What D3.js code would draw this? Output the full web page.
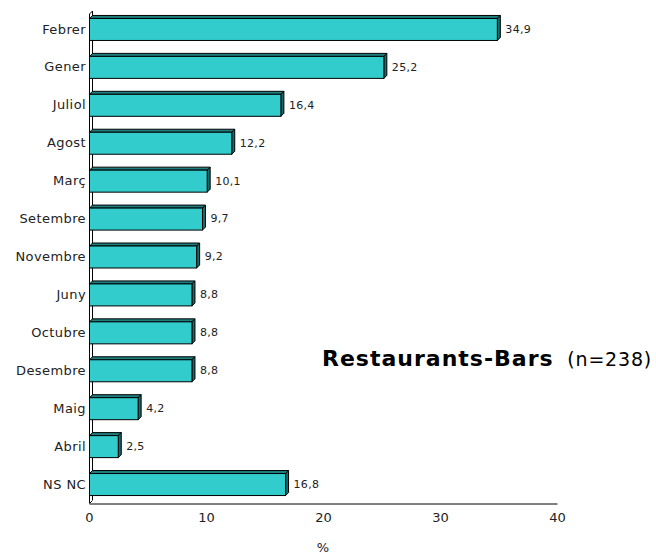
<!DOCTYPE html>
<html><head><meta charset="utf-8">
<script src="https://cdn.jsdelivr.net/npm/d3@7"></script>
<style>body{margin:0;background:#fff;} svg{display:block;}</style>
</head><body>
<script>
const categories = ["Febrer","Gener","Juliol","Agost","Març","Setembre","Novembre","Juny","Octubre","Desembre","Maig","Abril","NS NC"];
const values = [34.9,25.2,16.4,12.2,10.1,9.7,9.2,8.8,8.8,8.8,4.2,2.5,16.8];
const ticks = [0,10,20,30,40];
const labels = values.map(v => v.toFixed(1).replace(".", ","));

const W = 656, H = 555;
const svg = d3.select("body").append("svg").attr("width", W).attr("height", H);
const font = "'DejaVu Sans', Verdana, sans-serif";
const x = d3.scaleLinear().domain([0,40]).range([89,557]);
const y = d3.scaleBand().domain(categories).range([10,503]).paddingInner(0.42).paddingOuter(0.21);
const d = 3;

// wall and floor
const g = svg.append("g").attr("stroke","#000").attr("fill","none").attr("stroke-width",1);
g.append("path").attr("d",`M${x(0)+0.5},${y.range()[1]} V${14} L${x(0)+d+0.5},${11} V${y.range()[1]-d}`);
g.append("path").attr("d",`M${x(0)+0.5},${y.range()[1]+0.5} L${x(0)+d+0.5},${y.range()[1]-d+0.5}`);

// x axis
const xa = svg.append("g").attr("transform",`translate(0,${y.range()[1]+0.5})`)
  .call(d3.axisBottom(x).tickValues(ticks).tickSize(0).tickPadding(9));
xa.select(".domain").attr("stroke","#000");
xa.selectAll("text").attr("font-family",font).attr("font-size",13).attr("fill","#222");

svg.append("text").attr("x",x(20)).attr("y",552).attr("text-anchor","middle")
  .attr("font-family",font).attr("font-size",13).attr("fill","#222").text("%");

// bars
const bars = svg.append("g").selectAll("g").data(categories).join("g");
bars.each(function(c,i){
  const s = d3.select(this);
  const x0 = x(0)+0.5, x1 = x(values[i]), y0 = y(c)+0.5, bh = y.bandwidth();
  s.append("path").attr("d",`M${x0},${y0} L${x0+d},${y0-d} L${x1+d},${y0-d} L${x1},${y0} Z`)
    .attr("fill","#1f7f7f").attr("stroke","#000").attr("stroke-width",1);
  s.append("path").attr("d",`M${x1},${y0} L${x1+d},${y0-d} L${x1+d},${y0+bh-d} L${x1},${y0+bh} Z`)
    .attr("fill","#1a6a6a").attr("stroke","#000").attr("stroke-width",1);
  s.append("rect").attr("x",x0).attr("y",y0).attr("width",x1-x0).attr("height",bh)
    .attr("fill","#33CCCC").attr("stroke","#000").attr("stroke-width",1);
  s.append("text").attr("x",x1+d+5).attr("y",y(c)+bh/2).attr("dy","0.35em")
    .attr("font-family",font).attr("font-size",11).attr("letter-spacing",0.3).attr("fill","#222").text(labels[i]);
  s.append("text").attr("x",86).attr("y",y(c)+bh/2).attr("dy","0.35em").attr("text-anchor","end")
    .attr("font-family",font).attr("font-size",13).attr("letter-spacing",0.4).attr("fill","#222").text(c);
});

// title
svg.append("text").attr("x",322).attr("y",366).attr("font-family",font).attr("fill","#000")
  .attr("font-weight","bold").attr("font-size",22).attr("letter-spacing",1.0).text("Restaurants-Bars");
svg.append("text").attr("x",652).attr("y",366).attr("text-anchor","end").attr("font-family",font).attr("fill","#000")
  .attr("font-size",19).attr("letter-spacing",0.8).text("(n=238)");
</script>
</body></html>
